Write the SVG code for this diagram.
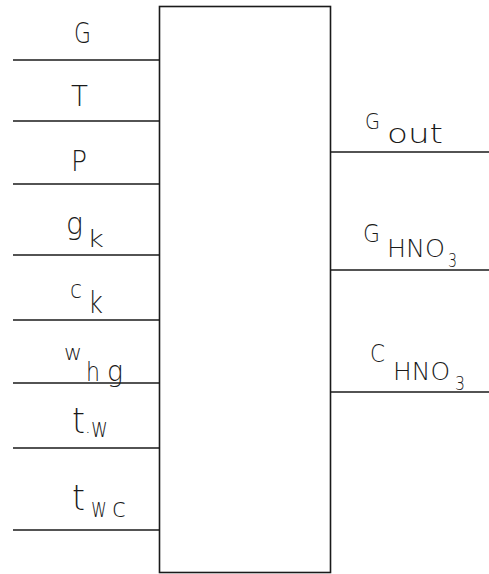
<svg xmlns="http://www.w3.org/2000/svg" width="489" height="574" viewBox="0 0 489 574">
<style>
.ln{stroke:#1a1a1a;stroke-width:1.6;fill:none}
text{font-family:"DejaVu Sans","Liberation Sans",sans-serif;font-weight:200;fill:#1a1a1a}
</style>
<rect width="489" height="574" fill="#fff"/>
<g id="block"><rect class="ln" x="159.5" y="6.5" width="171" height="566"/></g>
<g id="connectors">
<line class="ln" x1="13" y1="60" x2="159.5" y2="60"/>
<line class="ln" x1="13" y1="121" x2="159.5" y2="121"/>
<line class="ln" x1="13" y1="184" x2="159.5" y2="184"/>
<line class="ln" x1="13" y1="255" x2="159.5" y2="255"/>
<line class="ln" x1="13" y1="320" x2="159.5" y2="320"/>
<line class="ln" x1="13" y1="383" x2="159.5" y2="383"/>
<line class="ln" x1="13" y1="448" x2="159.5" y2="448"/>
<line class="ln" x1="13" y1="530" x2="159.5" y2="530"/>
<line class="ln" x1="330.5" y1="152" x2="489" y2="152"/>
<line class="ln" x1="330.5" y1="270" x2="489" y2="270"/>
<line class="ln" x1="330.5" y1="392" x2="489" y2="392"/>
</g>
<g id="in-G"><text x="74" y="43" font-size="28" textLength="17" lengthAdjust="spacingAndGlyphs">G</text></g>
<g id="in-T"><text x="71" y="106" font-size="28" textLength="17" lengthAdjust="spacingAndGlyphs">T</text></g>
<g id="in-P"><text x="71" y="171" font-size="28" textLength="16" lengthAdjust="spacingAndGlyphs">P</text></g>
<g id="in-gk"><text x="66" y="234" font-size="31" textLength="17" lengthAdjust="spacingAndGlyphs">g</text><text x="87" y="247" font-size="23" textLength="17" lengthAdjust="spacingAndGlyphs">k</text></g>
<g id="in-ck"><text x="70" y="298" font-size="25" textLength="12" lengthAdjust="spacingAndGlyphs">c</text><text x="88" y="313" font-size="30" textLength="15" lengthAdjust="spacingAndGlyphs">k</text></g>
<g id="in-whg"><text x="64" y="360" font-size="21" textLength="18" lengthAdjust="spacingAndGlyphs">w</text><text x="86" y="381" font-size="27" textLength="14" lengthAdjust="spacingAndGlyphs">h</text><text x="107" y="381" font-size="28" textLength="16" lengthAdjust="spacingAndGlyphs">g</text></g>
<g id="in-tw"><text x="72" y="433" font-size="36" textLength="13" lengthAdjust="spacingAndGlyphs">t</text><text x="85" y="433" font-size="18">.</text><text x="91" y="437" font-size="26" textLength="17" lengthAdjust="spacingAndGlyphs">w</text></g>
<g id="in-twc"><text x="72" y="510" font-size="35" textLength="13" lengthAdjust="spacingAndGlyphs">t</text><text x="91" y="517" font-size="26" textLength="16" lengthAdjust="spacingAndGlyphs">w</text><text x="112" y="517" font-size="26" textLength="14" lengthAdjust="spacingAndGlyphs">c</text></g>
<g id="out-Gout"><text x="365" y="129" font-size="21" textLength="15" lengthAdjust="spacingAndGlyphs">G</text><text x="387" y="143" font-size="26" textLength="56" lengthAdjust="spacingAndGlyphs">out</text></g>
<g id="out-GHNO3"><text x="363" y="242" font-size="25" textLength="17" lengthAdjust="spacingAndGlyphs">G</text><text x="387" y="257" font-size="24" textLength="58" lengthAdjust="spacingAndGlyphs">HNO</text><text x="448" y="267" font-size="20" textLength="9" lengthAdjust="spacingAndGlyphs">3</text></g>
<g id="out-CHNO3"><text x="370" y="362" font-size="24" textLength="15" lengthAdjust="spacingAndGlyphs">C</text><text x="393" y="380" font-size="24" textLength="57" lengthAdjust="spacingAndGlyphs">HNO</text><text x="455" y="390" font-size="20" textLength="10" lengthAdjust="spacingAndGlyphs">3</text></g>
</svg>
